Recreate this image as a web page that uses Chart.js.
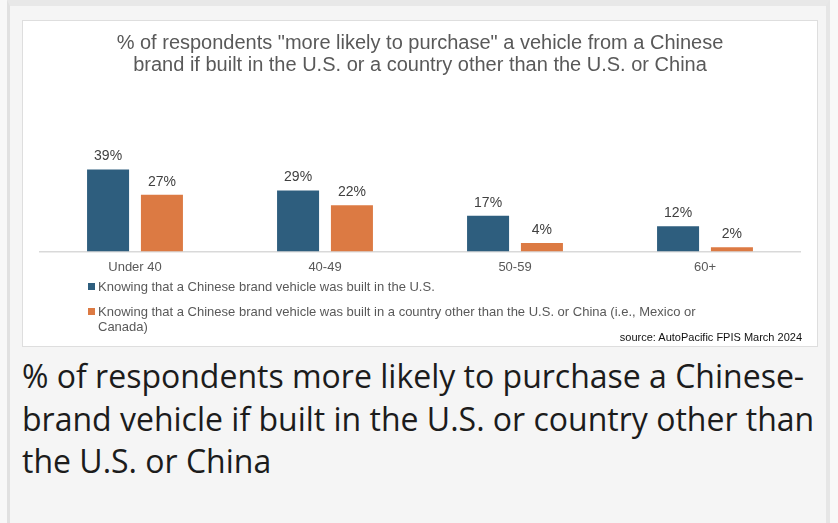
<!DOCTYPE html>
<html>
<head>
<meta charset="utf-8">
<script src="https://cdn.jsdelivr.net/npm/chart.js@4.4.1/dist/chart.umd.min.js"></script>
<style>
  html, body { margin: 0; padding: 0; }
  body { width: 838px; height: 523px; background: #f8f8f8; position: relative; overflow: hidden; }
  #outer {
    position: absolute; left: 7px; top: 0; width: 816px; height: 517px;
    background: #f5f5f5;
    border-top: 6px solid #e8e8e8;
    border-left: 3px solid #e1e1e1;
    border-right: 4px solid #e6e6e6;
  }
  #panel {
    position: absolute; left: 22px; top: 20px; width: 794px; height: 325px;
    background: #fff; border: 1px solid #dedede;
  }
  #chartBox { position: absolute; left: 0; top: 0; width: 794px; height: 262px; }
  #legend {
    position: absolute; left: 65px; top: 258px; width: 630px;
    font: 13px "Liberation Sans", Arial, sans-serif; color: #595959;
  }
  #legend .item { position: relative; padding-left: 10px; line-height: 15px; margin-bottom: 10px; }
  #legend .box { position: absolute; left: 0; top: 4px; width: 7px; height: 7px; }
  #source {
    position: absolute; right: 15px; top: 310px;
    font: 11px "Liberation Sans", Arial, sans-serif; color: #111;
  }
  #caption {
    position: absolute; left: 22px; top: 355px; width: 805px;
    font: 32px "Open Sans", sans-serif; line-height: 42.5px; color: #1c1c1c;
  }
</style>
</head>
<body>
<div id="outer"></div>
<div id="panel">
  <div id="chartBox"><canvas id="barChart"></canvas></div>
  <div id="legend"></div>
  <div id="source">source: AutoPacific FPIS March 2024</div>
</div>
<div id="caption">% of respondents more likely to purchase a Chinese-brand vehicle if built in the U.S. or country other than the U.S. or China</div>

<script>
// 資料
var ageGroups = ['Under 40', '40-49', '50-59', '60+'];
var builtInUS = [39, 29, 17, 12];
var builtElsewhere = [27, 22, 4, 2];
var seriesNames = [
    'Knowing that a Chinese brand vehicle was built in the U.S.',
    'Knowing that a Chinese brand vehicle was built in a country other than the U.S. or China (i.e., Mexico or Canada)'
];
var chartTitle = [
    '% of respondents "more likely to purchase" a vehicle from a Chinese',
    'brand if built in the U.S. or a country other than the U.S. or China'
];

// 柱子上的數值標籤
var valueLabels = {
    id: 'valueLabels',
    afterDatasetsDraw: function (chart) {
        var ctx = chart.ctx;
        ctx.save();
        ctx.font = '14px "Liberation Sans", Arial, sans-serif';
        ctx.fillStyle = '#404040';
        ctx.textAlign = 'center';
        ctx.textBaseline = 'middle';
        chart.data.datasets.forEach(function (ds, i) {
            chart.getDatasetMeta(i).data.forEach(function (bar, j) {
                ctx.fillText(ds.data[j] + '%', bar.x, bar.y - 13);
            });
        });
        ctx.restore();
    }
};

var barCtx = document.getElementById('barChart').getContext('2d');

var barChart = new Chart(barCtx, {
    type: 'bar',
    data: {
        labels: ageGroups,
        datasets: [{
            label: seriesNames[0],
            data: builtInUS,
            backgroundColor: '#2e5e7e'
        }, {
            label: seriesNames[1],
            data: builtElsewhere,
            backgroundColor: '#dc7a43'
        }]
    },
    options: {
        responsive: true,
        maintainAspectRatio: false,
        animation: false,
        categoryPercentage: 0.567,
        barPercentage: 0.78,
        layout: { padding: { left: 17, right: 17, top: 0, bottom: 0 } },
        plugins: {
            legend: { display: false },
            tooltip: { enabled: false },
            title: {
                display: true,
                text: chartTitle,
                color: '#595959',
                font: { family: '"Liberation Sans", Arial, sans-serif', size: 20, weight: 'normal', lineHeight: 1.1 },
                padding: { top: 11, bottom: 11.5 }
            }
        },
        scales: {
            x: {
                grid: { display: false, drawTicks: false },
                border: { display: true, color: '#d9d9d9', width: 1.5 },
                ticks: {
                    color: '#595959',
                    padding: 8,
                    font: { family: '"Liberation Sans", Arial, sans-serif', size: 13 }
                }
            },
            y: {
                display: false,
                min: 0,
                max: 78
            }
        }
    },
    plugins: [valueLabels]
});

// 自訂圖例
var legendBox = document.getElementById('legend');
barChart.data.datasets.forEach(function (ds) {
    var item = document.createElement('div');
    item.className = 'item';
    var box = document.createElement('span');
    box.className = 'box';
    box.style.background = ds.backgroundColor;
    item.appendChild(box);
    item.appendChild(document.createTextNode(ds.label));
    legendBox.appendChild(item);
});
</script>
</body>
</html>
